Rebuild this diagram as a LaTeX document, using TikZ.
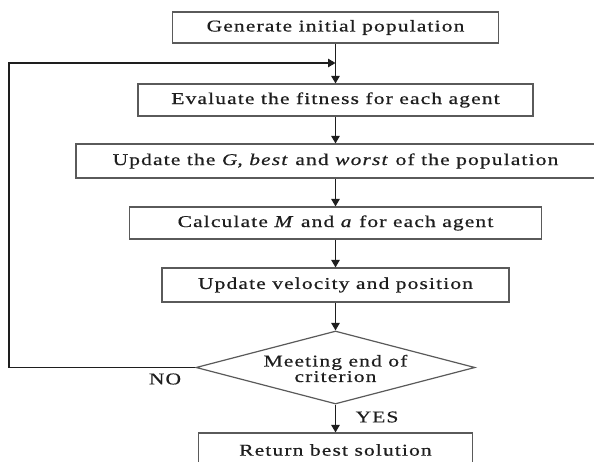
\documentclass[tikz,border=0pt]{standalone}
\usepackage{fontspec}
\setmainfont{Liberation Serif}[FakeStretch=1.3,LetterSpace=7,FakeBold=0.6]
\usetikzlibrary{shapes.geometric,arrows.meta}
\definecolor{boxline}{HTML}{5A5A5A}
\definecolor{ink}{HTML}{1E1E1E}
\begin{document}
\begin{tikzpicture}[x=1pt,y=1pt,
  stepbox/.style={draw=boxline,line width=1.2pt,rectangle,inner sep=0pt,text=ink,font=\fontsize{16.5}{18}\selectfont},
  decbox/.style={draw=boxline,line width=1.2pt,diamond,inner sep=0pt,minimum width=279pt,minimum height=73pt},
  flow/.style={draw=ink,line width=1.2pt,-{Triangle[length=7.5pt,width=8.5pt]}},
  lbl/.style={text=ink,font=\fontsize{16.5}{15.5}\selectfont,inner sep=0pt}]
\useasboundingbox (0,0) rectangle (594,461);
\fill[white] (0,0) rectangle (594,461);
\node[stepbox,minimum width=326pt,minimum height=31pt] (b1) at (335.5,433.5) {Generate initial population};
\node[stepbox,minimum width=395pt,minimum height=32pt] (b2) at (335.5,361) {Evaluate the fitness for each agent};
\node[stepbox,minimum width=519pt,minimum height=34pt] (b3) at (335.5,300) {Update the \textit{G}, \textit{best} and \textit{worst} of the population};
\node[stepbox,minimum width=412pt,minimum height=32pt] (b4) at (335.5,238) {Calculate \textit{M} and \textit{a} for each agent};
\node[stepbox,minimum width=347pt,minimum height=34pt] (b5) at (335.5,176) {Update velocity and position};
\node[decbox] (dec) at (335.5,93.5) {};
\node[lbl,align=center] (dectext) at (335.5,92.5) {Meeting end of\\criterion};
\node[stepbox,minimum width=274pt,minimum height=34pt] (b6) at (335.5,11) {Return best solution};
\coordinate (join) at (335.5,398);
\coordinate (lbot) at (9,93.5);
\coordinate (ltop) at (9,398);
\node[lbl] (no) at (165,82) {NO};
\node[lbl] (yes) at (377,44) {YES};
\draw[draw=ink,line width=1.2pt] (b1.south) -- (join);
\draw[flow] (join) -- (b2.north);
\draw[flow] (b2.south) -- (b3.north);
\draw[flow] (b3.south) -- (b4.north);
\draw[flow] (b4.south) -- (b5.north);
\draw[flow] (b5.south) -- (dec.north);
\draw[flow] (dec.south) -- (b6.north);
\draw[flow] (dec.west) -- (lbot) -- (ltop) -- (join);
\end{tikzpicture}
\end{document}
